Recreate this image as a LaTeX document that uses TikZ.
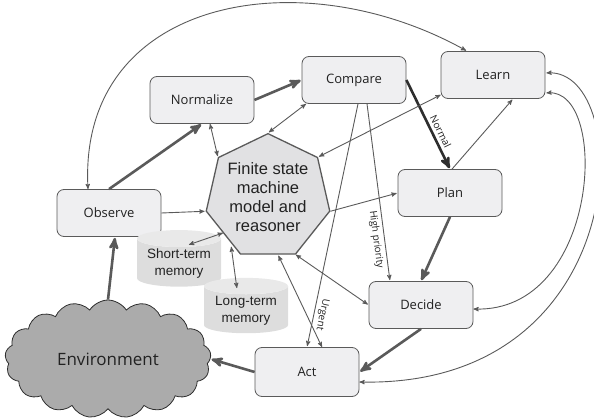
\documentclass[tikz,border=0pt]{standalone}
\usepackage{fontspec}
\setmainfont{Open Sans}
\newfontfamily\arialfont{Liberation Sans}
\usepackage{tikz}
\usetikzlibrary{arrows,shapes.geometric,shapes.symbols}

\definecolor{linegray}{HTML}{5A5A5A}
\definecolor{darkline}{HTML}{2E2E2E}
\definecolor{boxgray}{HTML}{EFEFF1}
\definecolor{fsmgray}{HTML}{E1E1E3}
\definecolor{cloudgray}{HTML}{ABABAB}
\definecolor{membody}{HTML}{DDDDDD}
\definecolor{memtop}{HTML}{E9E9E9}
\definecolor{txt}{HTML}{222222}

\begin{document}
\begin{tikzpicture}[x=1pt,y=1pt,->,>=stealth',shorten >=1pt,auto,
        every edge/.append style={draw=linegray,line width=0.9pt},
        block/.style={draw=linegray,fill=boxgray,rounded corners=7pt,line width=0.8pt,
          minimum width=104pt,minimum height=47pt,text=txt,font=\fontsize{13}{15}\selectfont},
        fsmnode/.style={regular polygon,regular polygon sides=7,minimum size=120pt,
          draw=linegray,fill=fsmgray,line width=1.3pt,inner sep=0pt,align=center,
          text=txt,font=\arialfont\fontsize{16.5}{19}\selectfont},
        mem/.style={cylinder,shape border rotate=90,aspect=0.25,minimum width=84pt,
          minimum height=42pt,cylinder uses custom fill,cylinder body fill=membody,
          cylinder end fill=memtop,align=center,text=txt,inner sep=2pt,
          font=\arialfont\fontsize{13.5}{17}\selectfont},
        envnode/.style={cloud,cloud puffs=17,cloud puff arc=115,aspect=1.75,
          minimum width=206pt,minimum height=118pt,draw=darkline,fill=cloudgray,
          line width=0.8pt,text=txt,font=\fontsize{17}{20}\selectfont},
        big/.style={draw=linegray,line width=2.6pt},
        lbl/.style={text=txt,font=\fontsize{10}{11}\selectfont,inner sep=3pt}]

  \useasboundingbox (0,0) rectangle (594,418);

  \node[block] (normalize) at (202,318) {Normalize};
  \node[block] (compare) at (354,338) {Compare};
  \node[block] (learn) at (493,343) {Learn};
  \node[block] (observe) at (109,205) {Observe};
  \node[block] (plan) at (450,225) {Plan};
  \node[block] (decide) at (421,113) {Decide};
  \node[block,minimum height=49pt] (act) at (307,46) {Act};
  \node[fsmnode] (fsm) at (268,221) {Finite state\\machine\\model and\\reasoner};
  \node[mem] (short) at (179,154) {Short-term\\memory};
  \node[mem] (long) at (246,107) {Long-term\\memory};
  \node[envnode] (env) at (108,59) {Environment};

  % main cycle
  \path (observe.north) edge[big] (normalize.south)
        (normalize.east) edge[big] (compare.west)
        (compare.east) edge[big,draw=darkline] node[lbl,sloped,above,pos=0.62] {Normal} (plan.north)
        (plan.south) edge[big] (decide.north)
        (decide.south) edge[big] (act.east)
        (act.west) edge[big] (env.east)
        (env.north) edge[big] ([xshift=6pt]observe.south);

  % links to the reasoner
  \path (observe.east) edge (fsm.corner 3)
        ([xshift=8pt]normalize.south) edge[<->] (fsm.corner 2)
        ([xshift=-48pt]compare.south) edge[<->] (fsm.corner 1)
        ([yshift=4pt]learn.south west) edge[<->] (fsm.corner 7)
        (fsm.corner 6) edge (plan.west)
        (fsm.corner 5) edge[<->] (decide.west)
        ([xshift=15pt]act.north) edge[<->] ([xshift=10pt]fsm.south)
        (fsm.side 3) edge[<->] ([shift={(9pt,19pt)}]short.center)
        ([shift={(-9pt,8pt)}]fsm.corner 4) edge[<->] ([shift={(-9pt,22pt)}]long.center);

  \path ([xshift=2pt]plan.north) edge ([xshift=20pt]learn.south)
        ([xshift=13pt]compare.south) edge node[lbl,sloped,below,pos=0.76] {High priority} ([xshift=-31pt]decide.north)
        ([xshift=4pt]compare.south) edge node[lbl,sloped,above,pos=0.86,allow upside down] {Urgent} (act.north);

  % feedback to learn
  \draw[<->,draw=linegray,line width=0.9pt] ([xshift=-21pt]observe.north) .. controls (78,420) and (300,460) .. ([xshift=-26pt]learn.north);
  \draw[<->,draw=linegray,line width=0.9pt] ([yshift=-4pt]decide.east) .. controls (600,105) and (610,330) .. ([yshift=-18pt]learn.east);
  \draw[<->,draw=linegray,line width=0.9pt] ([yshift=-10pt]act.east) .. controls (636,30) and (636,350) .. ([yshift=2pt]learn.east);

\end{tikzpicture}
\end{document}
